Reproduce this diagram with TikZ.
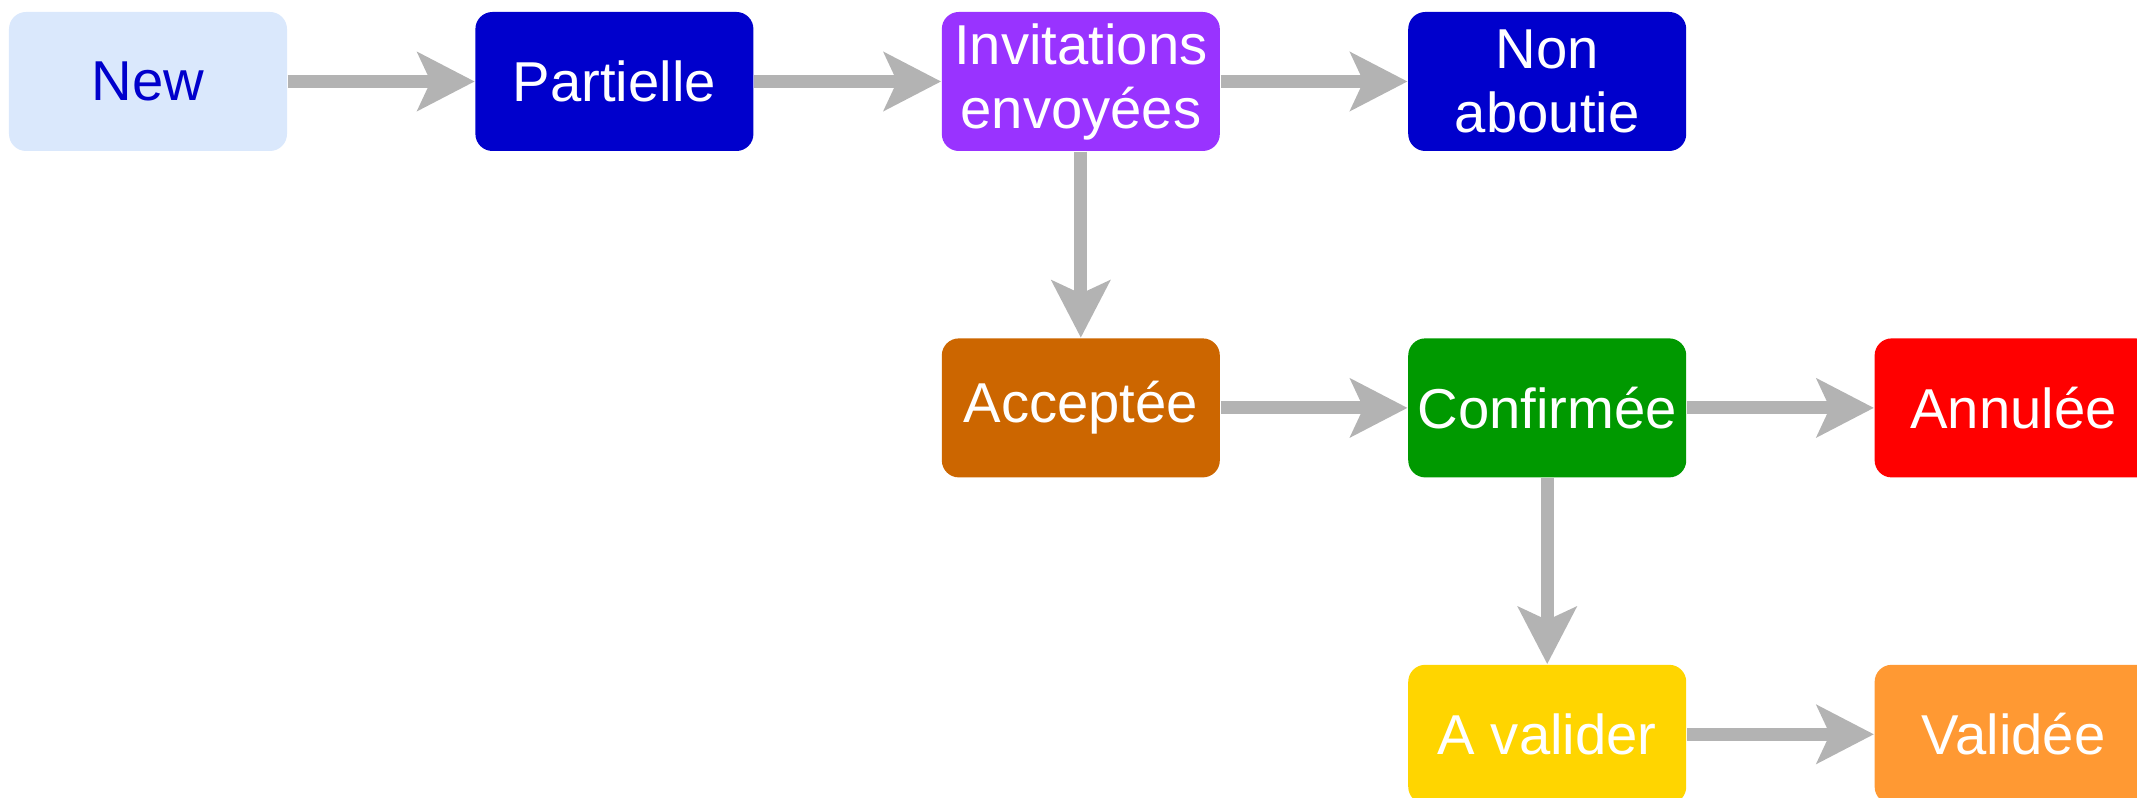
\documentclass[tikz,border=0pt]{standalone}
\usepackage{fontspec}
\setmainfont{Liberation Sans}
\usetikzlibrary{positioning,arrows.meta}
\definecolor{newfill}{HTML}{DAE8FC}
\definecolor{deepblue}{HTML}{0000CC}
\definecolor{invitviolet}{HTML}{9933FF}
\definecolor{acceptbrown}{HTML}{CC6600}
\definecolor{confirmgreen}{HTML}{009900}
\definecolor{annulred}{HTML}{FF0000}
\definecolor{validgold}{HTML}{FFD500}
\definecolor{valideorange}{HTML}{FF9933}
\definecolor{flechegris}{HTML}{B3B3B3}

\begin{document}
\begin{tikzpicture}[
				etat/.style={rectangle, rounded corners=1.7mm, minimum width=2.78cm, minimum height=1.39cm, inner sep=0pt, align=center, text=white, font=\fontsize{16pt}{18.2pt}\selectfont},
				fleche/.style={line width=1.3mm, draw=flechegris, -{Stealth[length=5.7mm, width=5.8mm, inset=1.3mm]}},
				node distance=1.86cm and 1.87cm
			]
			\useasboundingbox (0,0) rectangle (21.37,-7.98);
			\clip (0,0) rectangle (21.37,-7.98);
			\node[etat, fill=newfill, text=deepblue] (new) at (1.48,-0.815) {New};
			\node[etat, fill=deepblue] (partielle) [right=of new] {Partielle};
			\node[etat, fill=invitviolet] (invitations) [right=of partielle] {Invitations\\envoyées};
			\node[etat, fill=deepblue] (nonaboutie) [right=of invitations] {Non\\aboutie};
			\node[etat, fill=acceptbrown] (acceptee) [below=of invitations] {Acceptée};
			\node[etat, fill=confirmgreen] (confirmee) [right=of acceptee] {Confirmée};
			\node[etat, fill=annulred] (annulee) [right=of confirmee] {Annulée};
			\node[etat, fill=validgold] (avalider) [below=of confirmee] {A valider};
			\node[etat, fill=valideorange] (validee) [right=of avalider] {Validée};
			\begin{scope}[fleche]
			\draw (new.east) -- (partielle.west);
			\draw (partielle.east) -- (invitations.west);
			\draw (invitations.east) -- (nonaboutie.west);
			\draw (invitations.south) -- (acceptee.north);
			\draw (acceptee.east) -- (confirmee.west);
			\draw (confirmee.east) -- (annulee.west);
			\draw (confirmee.south) -- (avalider.north);
			\draw (avalider.east) -- (validee.west);
			\end{scope}
			\end{tikzpicture}
\end{document}
